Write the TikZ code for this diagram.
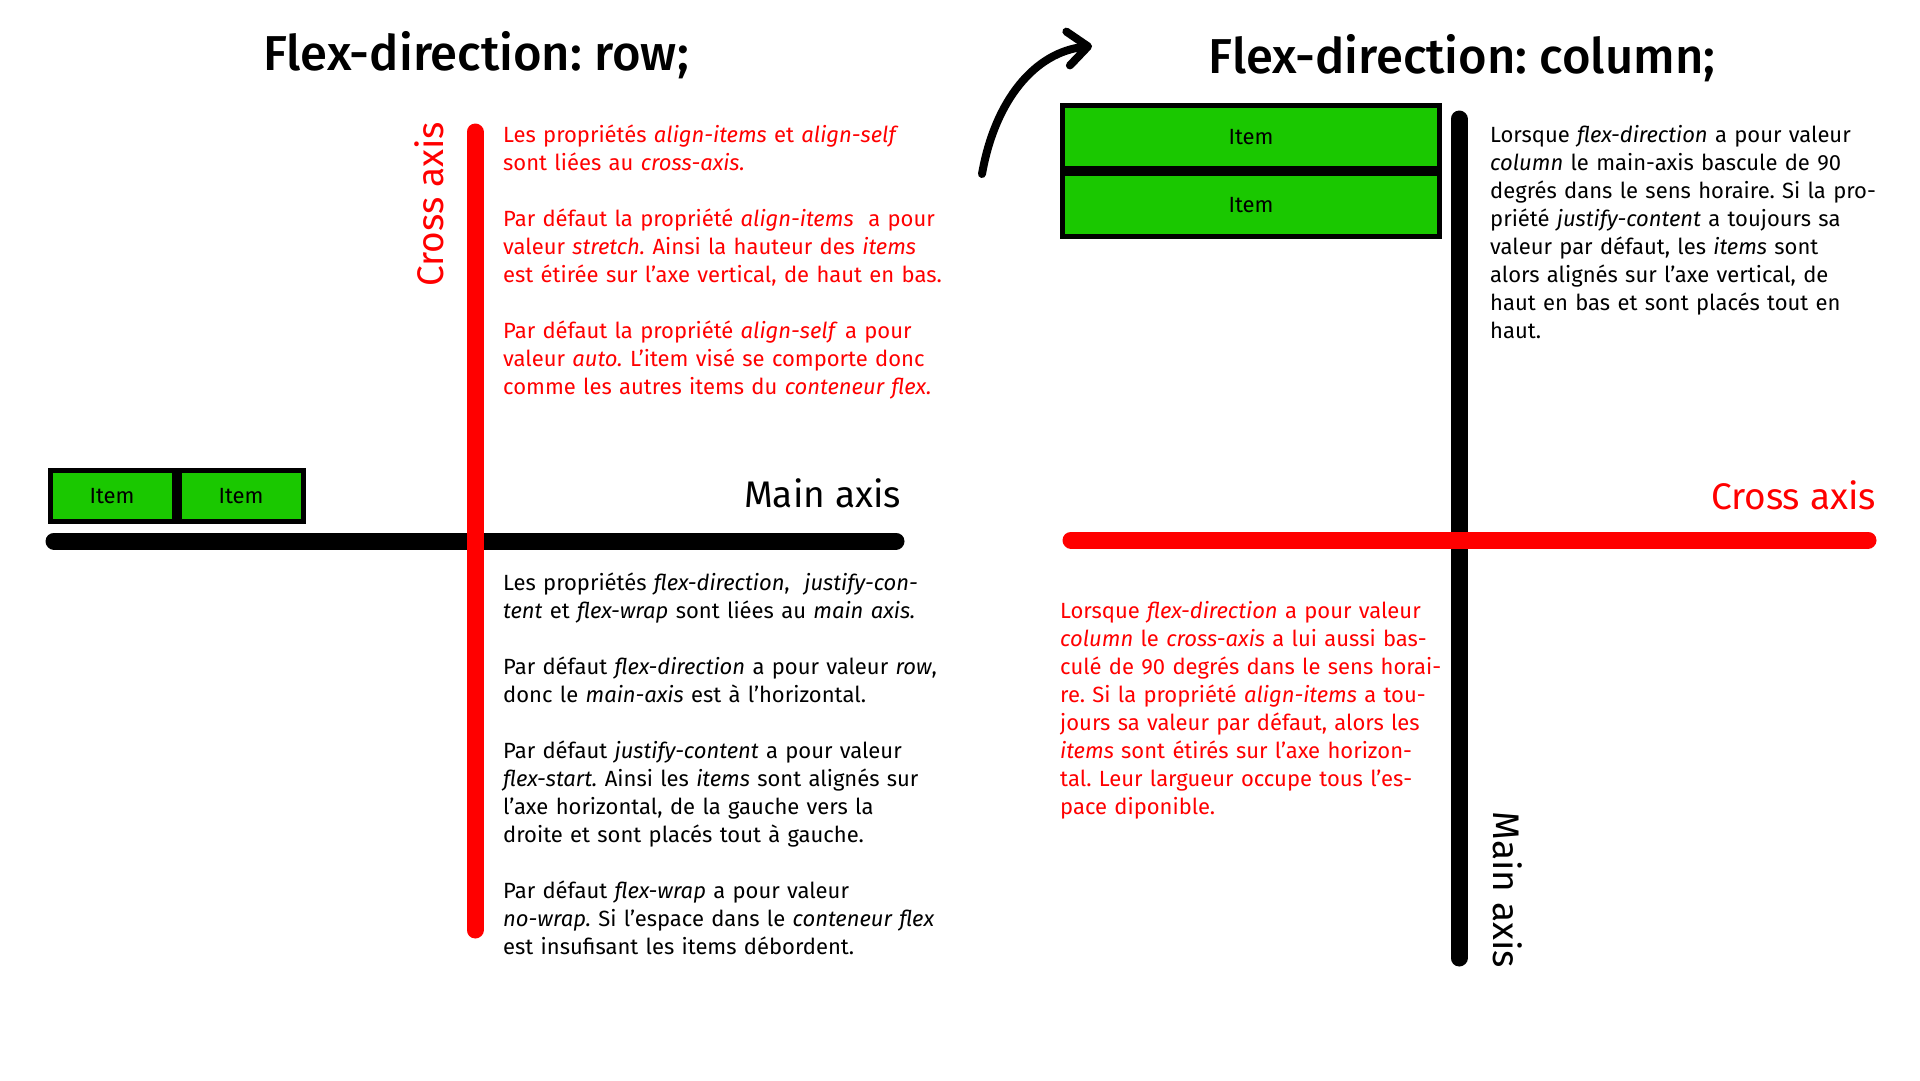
\documentclass[tikz,border=0pt]{standalone}
\usepackage{fontspec}
\setmainfont{Fira Sans}
\newfontfamily\headfont{Fira Sans Medium}
\usetikzlibrary{arrows.meta,positioning}
\frenchspacing

\definecolor{itemgreen}{RGB}{26,200,0}

\begin{document}
\begin{tikzpicture}[x=1pt,y=-1pt]
            \tikzstyle{flexitem} = [draw,line width=5pt,fill=itemgreen,inner sep=0pt,font=\fontsize{22}{26}\selectfont]
            \tikzstyle{axisline} = [line width=17pt,line cap=round]
            \tikzstyle{heading} = [font=\headfont\fontsize{49}{59}\selectfont,anchor=base]
            \tikzstyle{axislabel} = [font=\fontsize{37}{44}\selectfont,inner sep=0pt]
            \tikzstyle{para} = [font=\fontsize{22}{28}\selectfont,text width=480pt,align=left,inner sep=0pt,anchor=base west]

            \useasboundingbox (0,0) rectangle (1920,1080);

            % flex-direction: row
            \node[heading] (title-row) at (476,70) {Flex-direction: row;};
            \node[flexitem,minimum width=124pt,minimum height=51pt] (item-a) at (112,496) {Item};
            \node[flexitem,minimum width=124pt,minimum height=51pt] (item-b) [right=0pt of item-a] {Item};

            \coordinate (main-row-start) at (54,541);
            \coordinate (main-row-end) at (896,541);
            \coordinate (cross-row-start) at (475,132);
            \coordinate (cross-row-end) at (475,930);
            \draw[axisline] (main-row-start) -- (main-row-end);
            \draw[axisline,red] (cross-row-start) -- (cross-row-end);

            \node[axislabel,anchor=base east] (main-row) at (901,507) {Main axis};
            \node[axislabel,text=red,rotate=90,anchor=base west] (cross-row) at (443,287) {Cross axis};

            \node[para,text=red] (cross-row-text) at (503,142) {Les propriétés \emph{align-items} et \emph{align-self}\\
                sont liées au \emph{cross-axis.}\\[28pt]
                Par défaut la propriété \emph{align-items}\ \ a pour\\
                valeur \emph{stretch.} Ainsi la hauteur des \emph{items}\\
                est étirée sur l’axe vertical, de haut en bas.\\[28pt]
                Par défaut la propriété \emph{align-self} a pour\\
                valeur \emph{auto.} L’item visé se comporte donc\\
                comme les autres items du \emph{conteneur flex.}};
            \node[para] (main-row-text) at (503,590) {Les propriétés \emph{flex-direction},\ \ \emph{justify-con-}\\
                \emph{tent} et \emph{flex-wrap} sont liées au \emph{main axis.}\\[28pt]
                Par défaut \emph{flex-direction} a pour valeur \emph{row},\\
                donc le \emph{main-axis} est à l’horizontal.\\[28pt]
                Par défaut \emph{justify-content} a pour valeur\\
                \emph{flex-start.} Ainsi les \emph{items} sont alignés sur\\
                l’axe horizontal, de la gauche vers la\\
                droite et sont placés tout à gauche.\\[28pt]
                Par défaut \emph{flex-wrap} a pour valeur\\
                \emph{no-wrap.} Si l’espace dans le \emph{conteneur flex}\\
                est insufisant les items débordent.};

            % rotation arrow
            \coordinate (turn-start) at (982,174);
            \coordinate (turn-end) at (1092,46);
            \draw[line width=8pt,line cap=round,-{Straight Barb[round,length=20pt,width=34pt]}] (turn-start) .. controls (995,100) and (1035,52) .. (turn-end);

            % flex-direction: column
            \node[heading] (title-col) at (1462,73) {Flex-direction: column;};
            \node[flexitem,minimum width=377pt,minimum height=63pt] (item-c) at (1251,137) {Item};
            \node[flexitem,minimum width=377pt,minimum height=63pt] (item-d) [below=0pt of item-c] {Item};

            \coordinate (main-col-start) at (1459,119);
            \coordinate (main-col-end) at (1459,958);
            \coordinate (cross-col-start) at (1071,540);
            \coordinate (cross-col-end) at (1868,540);
            \draw[axisline] (main-col-start) -- (main-col-end);
            \draw[axisline,red] (cross-col-start) -- (cross-col-end);

            \node[axislabel,text=red,anchor=base east] (cross-col) at (1876,509) {Cross axis};
            \node[axislabel,rotate=-90,anchor=base west] (main-col) at (1493,811) {Main axis};

            \node[para] (main-col-text) at (1490,142) {Lorsque \emph{flex-direction} a pour valeur\\
                \emph{column} le main-axis bascule de 90\\
                degrés dans le sens horaire. Si la pro-\\
                priété \emph{justify-content} a toujours sa\\
                valeur par défaut, les \emph{items} sont\\
                alors alignés sur l’axe vertical, de\\
                haut en bas et sont placés tout en\\
                haut.};
            \node[para,text=red] (cross-col-text) at (1060,618) {Lorsque \emph{flex-direction} a pour valeur\\
                \emph{column} le \emph{cross-axis} a lui aussi bas-\\
                culé de 90 degrés dans le sens horai-\\
                re. Si la propriété \emph{align-items} a tou-\\
                jours sa valeur par défaut, alors les\\
                \emph{items} sont étirés sur l’axe horizon-\\
                tal. Leur largueur occupe tous l’es-\\
                pace diponible.};
        \end{tikzpicture}
\end{document}
